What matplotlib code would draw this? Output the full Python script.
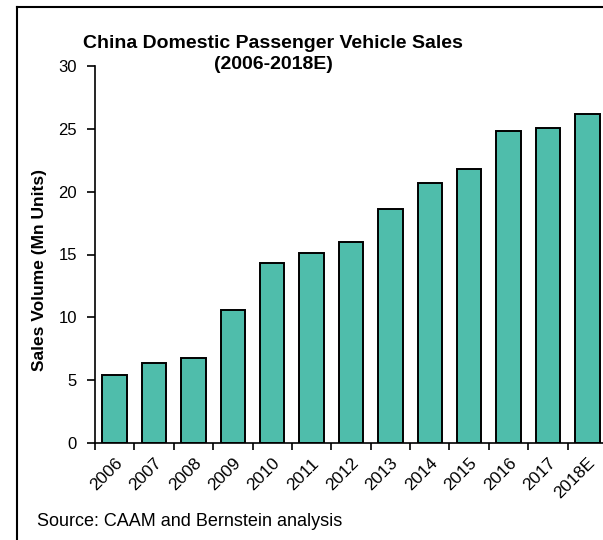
import matplotlib
matplotlib.use("Agg")
import matplotlib.pyplot as plt
from matplotlib.lines import Line2D

plt.rcParams["font.family"] = ["Liberation Sans", "DejaVu Sans"]

# Sales volume, Mn units
years = ["2006", "2007", "2008", "2009", "2010", "2011", "2012",
         "2013", "2014", "2015", "2016", "2017", "2018E"]
sales = [5.4, 6.35, 6.8, 10.6, 14.3, 15.1, 16.0,
         18.6, 20.7, 21.8, 24.8, 25.1, 26.2]

fig = plt.figure(figsize=(6.03, 5.40), dpi=100)
ax = fig.add_axes([95 / 603, 1 - 443 / 540, 512 / 603, 377 / 540])

x = list(range(len(years)))
ax.bar(x, sales, width=0.62, color="#4FBDAB", edgecolor="black", linewidth=1.4)

ax.set_xlim(-0.5, len(years) - 0.5)
ax.set_ylim(0, 30)
ax.set_yticks(range(0, 31, 5))
ax.tick_params(axis="y", labelsize=12, direction="out", length=6, width=1.2, pad=7)

# ticks between categories, labels under bars
ax.set_xticks([i - 0.5 for i in x] + [len(years) - 0.5])
ax.set_xticklabels([])
ax.set_xticks(x, minor=True)
ax.set_xticklabels(years, minor=True, rotation=45, ha="right",
                   rotation_mode="anchor", fontsize=12.5)
ax.tick_params(axis="x", which="major", direction="out", length=5, width=1.2)
ax.tick_params(axis="x", which="minor", length=0, pad=9)

for side in ["top", "right"]:
    ax.spines[side].set_visible(False)
for side in ["left", "bottom"]:
    ax.spines[side].set_linewidth(1.2)

ax.set_ylabel("Sales Volume (Mn Units)", fontsize=12.5, fontweight="bold")
ax.yaxis.set_label_coords(-0.094, 0.459)

fig.text(0.453, 0.9, "China Domestic Passenger Vehicle Sales\n(2006-2018E)",
         ha="center", va="center", fontsize=14, fontweight="bold", linespacing=1.35)
fig.text(37 / 603, 1 - 522 / 540, "Source: CAAM and Bernstein analysis",
         ha="left", va="center", fontsize=13)

# outer frame (left and top edges visible)
fig.add_artist(Line2D([17 / 603, 17 / 603], [0, 1 - 7 / 540], color="black",
                      linewidth=1.5, transform=fig.transFigure))
fig.add_artist(Line2D([17 / 603, 1], [1 - 7 / 540, 1 - 7 / 540], color="black",
                      linewidth=1.5, transform=fig.transFigure))

fig.savefig("out.png", dpi=100)
